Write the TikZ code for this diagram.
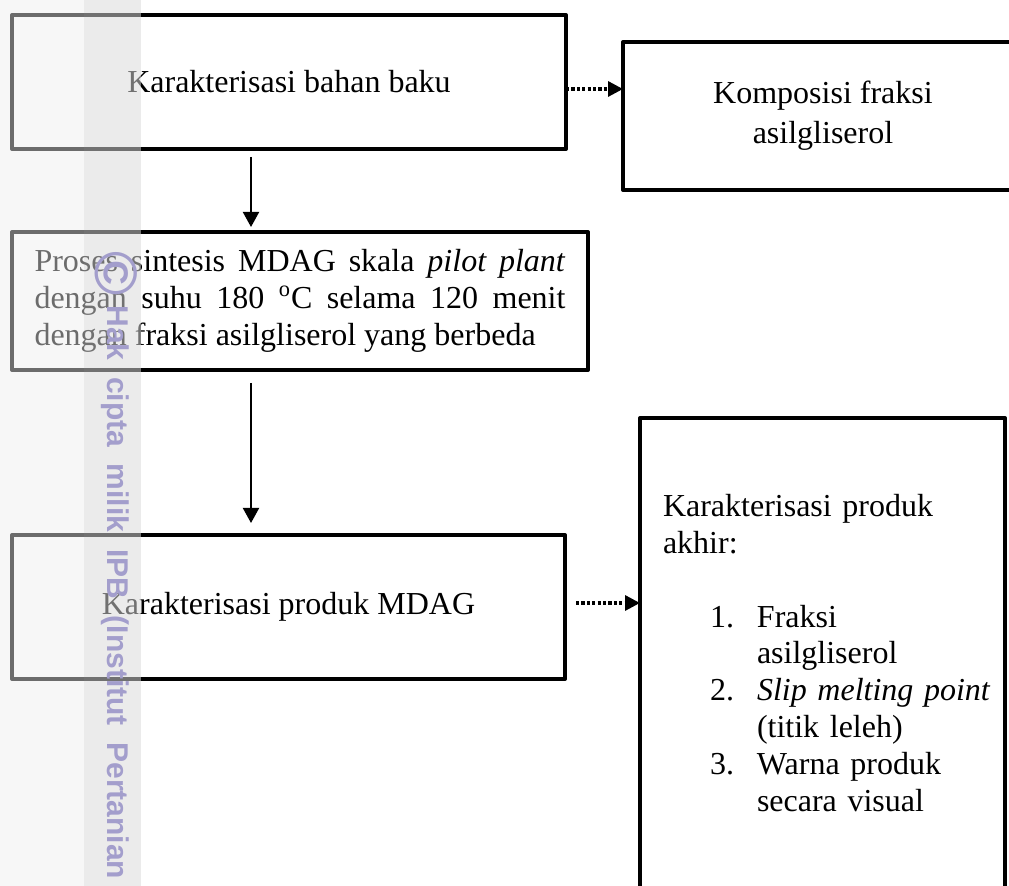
\documentclass[tikz,border=0pt]{standalone}
\usepackage{fontspec}
\setmainfont{Liberation Serif}
\newfontfamily\markfont[WordSpace=2]{Liberation Sans}
\usetikzlibrary{arrows.meta}
\definecolor{ipbmark}{RGB}{163,158,204}
\hbadness=10000
\hfuzz=20pt

\begin{document}
\begin{tikzpicture}[x=0.5pt, y=-0.5pt,
  every node/.append style={font=\fontsize{16pt}{18.4pt}\selectfont},
  box/.style={draw, line width=2pt, line join=round, inner sep=0pt, outer sep=0pt},
  flow/.style={-{Triangle[length=7.5pt, width=8pt]}, line width=1pt},
  link/.style={-{Triangle[length=7.5pt, width=7.5pt]}, line width=1.6pt, dash pattern=on 1.6pt off 1.1pt}]
  \useasboundingbox (0,0) rectangle (1009,886);

  % Boxes
  \node[box, minimum width=277pt, minimum height=67pt] (bahan) at (289,82) {Karakterisasi bahan baku};
  \node[box, minimum width=200pt, minimum height=74pt, align=center] (komposisi) at (823,116)
    {Komposisi fraksi\\[1.5pt]asilgliserol};
  \node[box, minimum width=288pt, minimum height=69pt, text width=265.5pt, align=justify] (sintesis) at (300,301)
    {Proses sintesis MDAG skala \textit{pilot plant}\linebreak
     dengan suhu 180 \textsuperscript{o}C selama 120 menit\linebreak
     dengan fraksi asilgliserol yang berbeda};
  \node[box, minimum width=276.5pt, minimum height=72pt] (produk) at (288.5,607) {Karakterisasi produk MDAG};
  \node[box, minimum width=182.5pt, minimum height=235pt, text width=159.5pt, align=left] (akhir) at (822.5,653)
    {Karakterisasi produk\\akhir:\\[18.4pt]
     \hspace*{23.5pt}\makebox[23.5pt][l]{1.}Fraksi\\
     \hspace*{47pt}asilgliserol\\
     \hspace*{23.5pt}\makebox[23.5pt][l]{2.}\mbox{\textit{Slip melting point}}\\
     \hspace*{47pt}(titik leleh)\\
     \hspace*{23.5pt}\makebox[23.5pt][l]{3.}Warna produk\\
     \hspace*{47pt}secara visual};

  % Arrows
  \coordinate (col) at (251,0);
  \coordinate (rowa) at (0,89);
  \coordinate (rowb) at (0,603);
  \draw[flow, shorten <=4pt, shorten >=2.5pt] (bahan.south -| col) -- (sintesis.north -| col);
  \draw[flow, shorten <=6.5pt, shorten >=6pt] (sintesis.south -| col) -- (produk.north -| col);
  \draw[link] (bahan.east |- rowa) -- (komposisi.west |- rowa);
  \draw[link, shorten <=5.5pt] (produk.east |- rowb) -- (akhir.west |- rowb);

  % Watermark strip
  \fill[black!7, opacity=0.46] (0,0) rectangle (84,886);
  \fill[black!15, opacity=0.52] (84,0) rectangle (141,886);
  \node[rotate=-90, anchor=base west, inner sep=0pt, text=ipbmark,
        font=\markfont\bfseries\fontsize{15pt}{18pt}\selectfont] (hakcipta) at (107,251)
    {\raisebox{-6pt}{\fontsize{30pt}{30pt}\selectfont ©}\hspace{5pt}Hak cipta milik IPB (Institut Pertanian};
\end{tikzpicture}
\end{document}
